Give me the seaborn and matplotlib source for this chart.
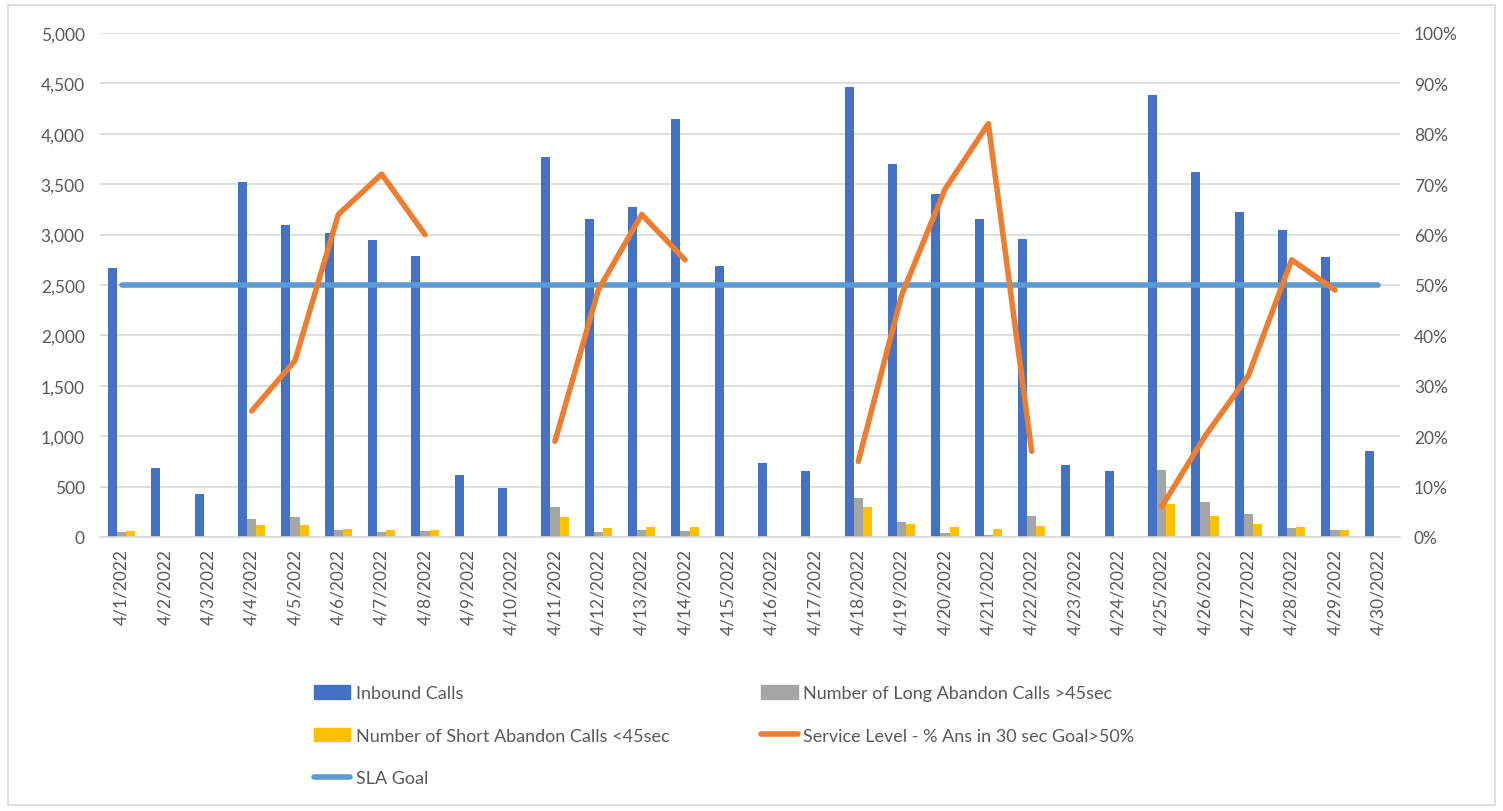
import numpy as np
import pandas as pd
import matplotlib
matplotlib.use("Agg")
import matplotlib.pyplot as plt
import seaborn as sns
from matplotlib.patches import Patch, Rectangle
from matplotlib.lines import Line2D
from matplotlib.ticker import FuncFormatter, MultipleLocator

dates = [f"4/{d}/2022" for d in range(1, 31)]
inbound = [2670, 680, 430, 3520, 3100, 3020, 2950, 2790, 620, 490,
           3770, 3150, 3270, 4150, 2690, 730, 650, 4460, 3700, 3400,
           3150, 2960, 710, 650, 4380, 3620, 3220, 3050, 2780, 850]
long_abandon = [45, 0, 0, 180, 195, 70, 45, 55, 0, 0,
                295, 50, 70, 55, 0, 0, 0, 390, 145, 40,
                20, 205, 0, 0, 665, 345, 230, 85, 70, 0]
short_abandon = [55, 0, 0, 120, 120, 80, 65, 65, 0, 0,
                 195, 90, 95, 95, 0, 0, 0, 295, 130, 95,
                 80, 105, 0, 0, 330, 205, 130, 95, 70, 0]
service_level = [np.nan, np.nan, np.nan, 0.25, 0.35, 0.64, 0.72, 0.60, np.nan, np.nan,
                 0.19, 0.49, 0.64, 0.55, np.nan, np.nan, np.nan, 0.15, 0.48, 0.69,
                 0.82, 0.17, np.nan, np.nan, 0.06, 0.20, 0.32, 0.55, 0.49, np.nan]
sla_goal = [0.50] * 30

s_in = "Inbound Calls"
s_long = "Number of Long Abandon Calls >45sec"
s_short = "Number of Short Abandon Calls <45sec"
s_sl = "Service Level - % Ans in 30 sec Goal>50%"
s_sla = "SLA Goal"

c_blue = "#4472C4"
c_gray = "#A5A5A5"
c_yel = "#FFC000"
c_or = "#ED7D31"
c_sla = "#5B9BD5"
txt = "#595959"
gridc = "#D9D9D9"

sns.set_style("white")
plt.rcParams["font.family"] = ["Lato", "DejaVu Sans"]

bars = pd.DataFrame({
    "date": dates * 3,
    "value": inbound + long_abandon + short_abandon,
    "series": [s_in] * 30 + [s_long] * 30 + [s_short] * 30,
})
idx = np.arange(30)
sl_df = pd.DataFrame({"x": idx, "y": service_level,
                      "week": [0]*8 + [1]*7 + [2]*7 + [3]*8}).dropna()
sla_df = pd.DataFrame({"x": idx, "y": sla_goal})

fig = plt.figure(figsize=(15.03, 8.12), dpi=100)
ax = fig.add_axes([100/1503, (812-538)/812, 1300/1503, 504/812])

sns.barplot(data=bars, x="date", y="value", hue="series", order=dates,
            hue_order=[s_in, s_long, s_short],
            palette=[c_blue, c_gray, c_yel], saturation=1, width=0.63,
            legend=False, ax=ax, linewidth=0)

ax.set_ylim(0, 5000)
ax.set_xlim(-0.5, 29.5)
ax.yaxis.set_major_locator(MultipleLocator(500))
ax.yaxis.set_major_formatter(FuncFormatter(lambda v, p: f"{int(v):,}"))
ax.grid(axis="y", color=gridc, lw=1.2)
ax.set_axisbelow(True)
for sp in ["top", "left", "right"]:
    ax.spines[sp].set_visible(False)
ax.spines["bottom"].set_color(gridc)
ax.spines["bottom"].set_linewidth(1.2)
ax.set_xlabel("")
ax.set_ylabel("")
ax.set_xticks(idx)
ax.set_xticklabels(dates, rotation=90)
ax.set_xticks(np.arange(-0.5, 30, 1), minor=True)
ax.tick_params(axis="x", which="major", length=0, pad=8, labelsize=12.5, colors=txt)
ax.tick_params(axis="x", which="minor", length=6, color=gridc, width=1.2)
ax.tick_params(axis="y", length=0, pad=11, labelsize=12.5, colors=txt)

ax2 = ax.twinx()
sns.lineplot(data=sla_df, x="x", y="y", color=c_sla, lw=4, ax=ax2,
             solid_capstyle="round")
sns.lineplot(data=sl_df, x="x", y="y", units="week", estimator=None,
             color=c_or, lw=4, ax=ax2, solid_capstyle="round")
ax2.set_ylim(0, 1.0)
ax2.set_xlim(-0.5, 29.5)
ax2.yaxis.set_major_locator(MultipleLocator(0.1))
ax2.yaxis.set_major_formatter(FuncFormatter(lambda v, p: f"{round(v*100)}%"))
ax2.tick_params(axis="y", length=0, pad=10, labelsize=12.5, colors=txt)
for sp in ax2.spines.values():
    sp.set_visible(False)
ax2.set_xlabel("")
ax2.set_ylabel("")

handles = [
    Patch(color=c_blue), Patch(color=c_yel),
    Line2D([], [], color=c_sla, lw=4, solid_capstyle="round"),
    Patch(color=c_gray),
    Line2D([], [], color=c_or, lw=4, solid_capstyle="round"),
]
labels = [s_in, s_short, s_sla, s_long, s_sl]
fig.legend(handles, labels, ncol=2, loc="upper left",
           bbox_to_anchor=(298/1503, (812-670)/812), frameon=False,
           fontsize=13, labelcolor=txt, handlelength=2.0, handleheight=0.8,
           handletextpad=0.3, labelspacing=1.45, columnspacing=5.1)

fig.add_artist(Rectangle((8/1503, 6/812), 1487/1503, 800/812,
                         transform=fig.transFigure, fill=False,
                         edgecolor=gridc, lw=1.2))

fig.savefig("out.png", dpi=100)
